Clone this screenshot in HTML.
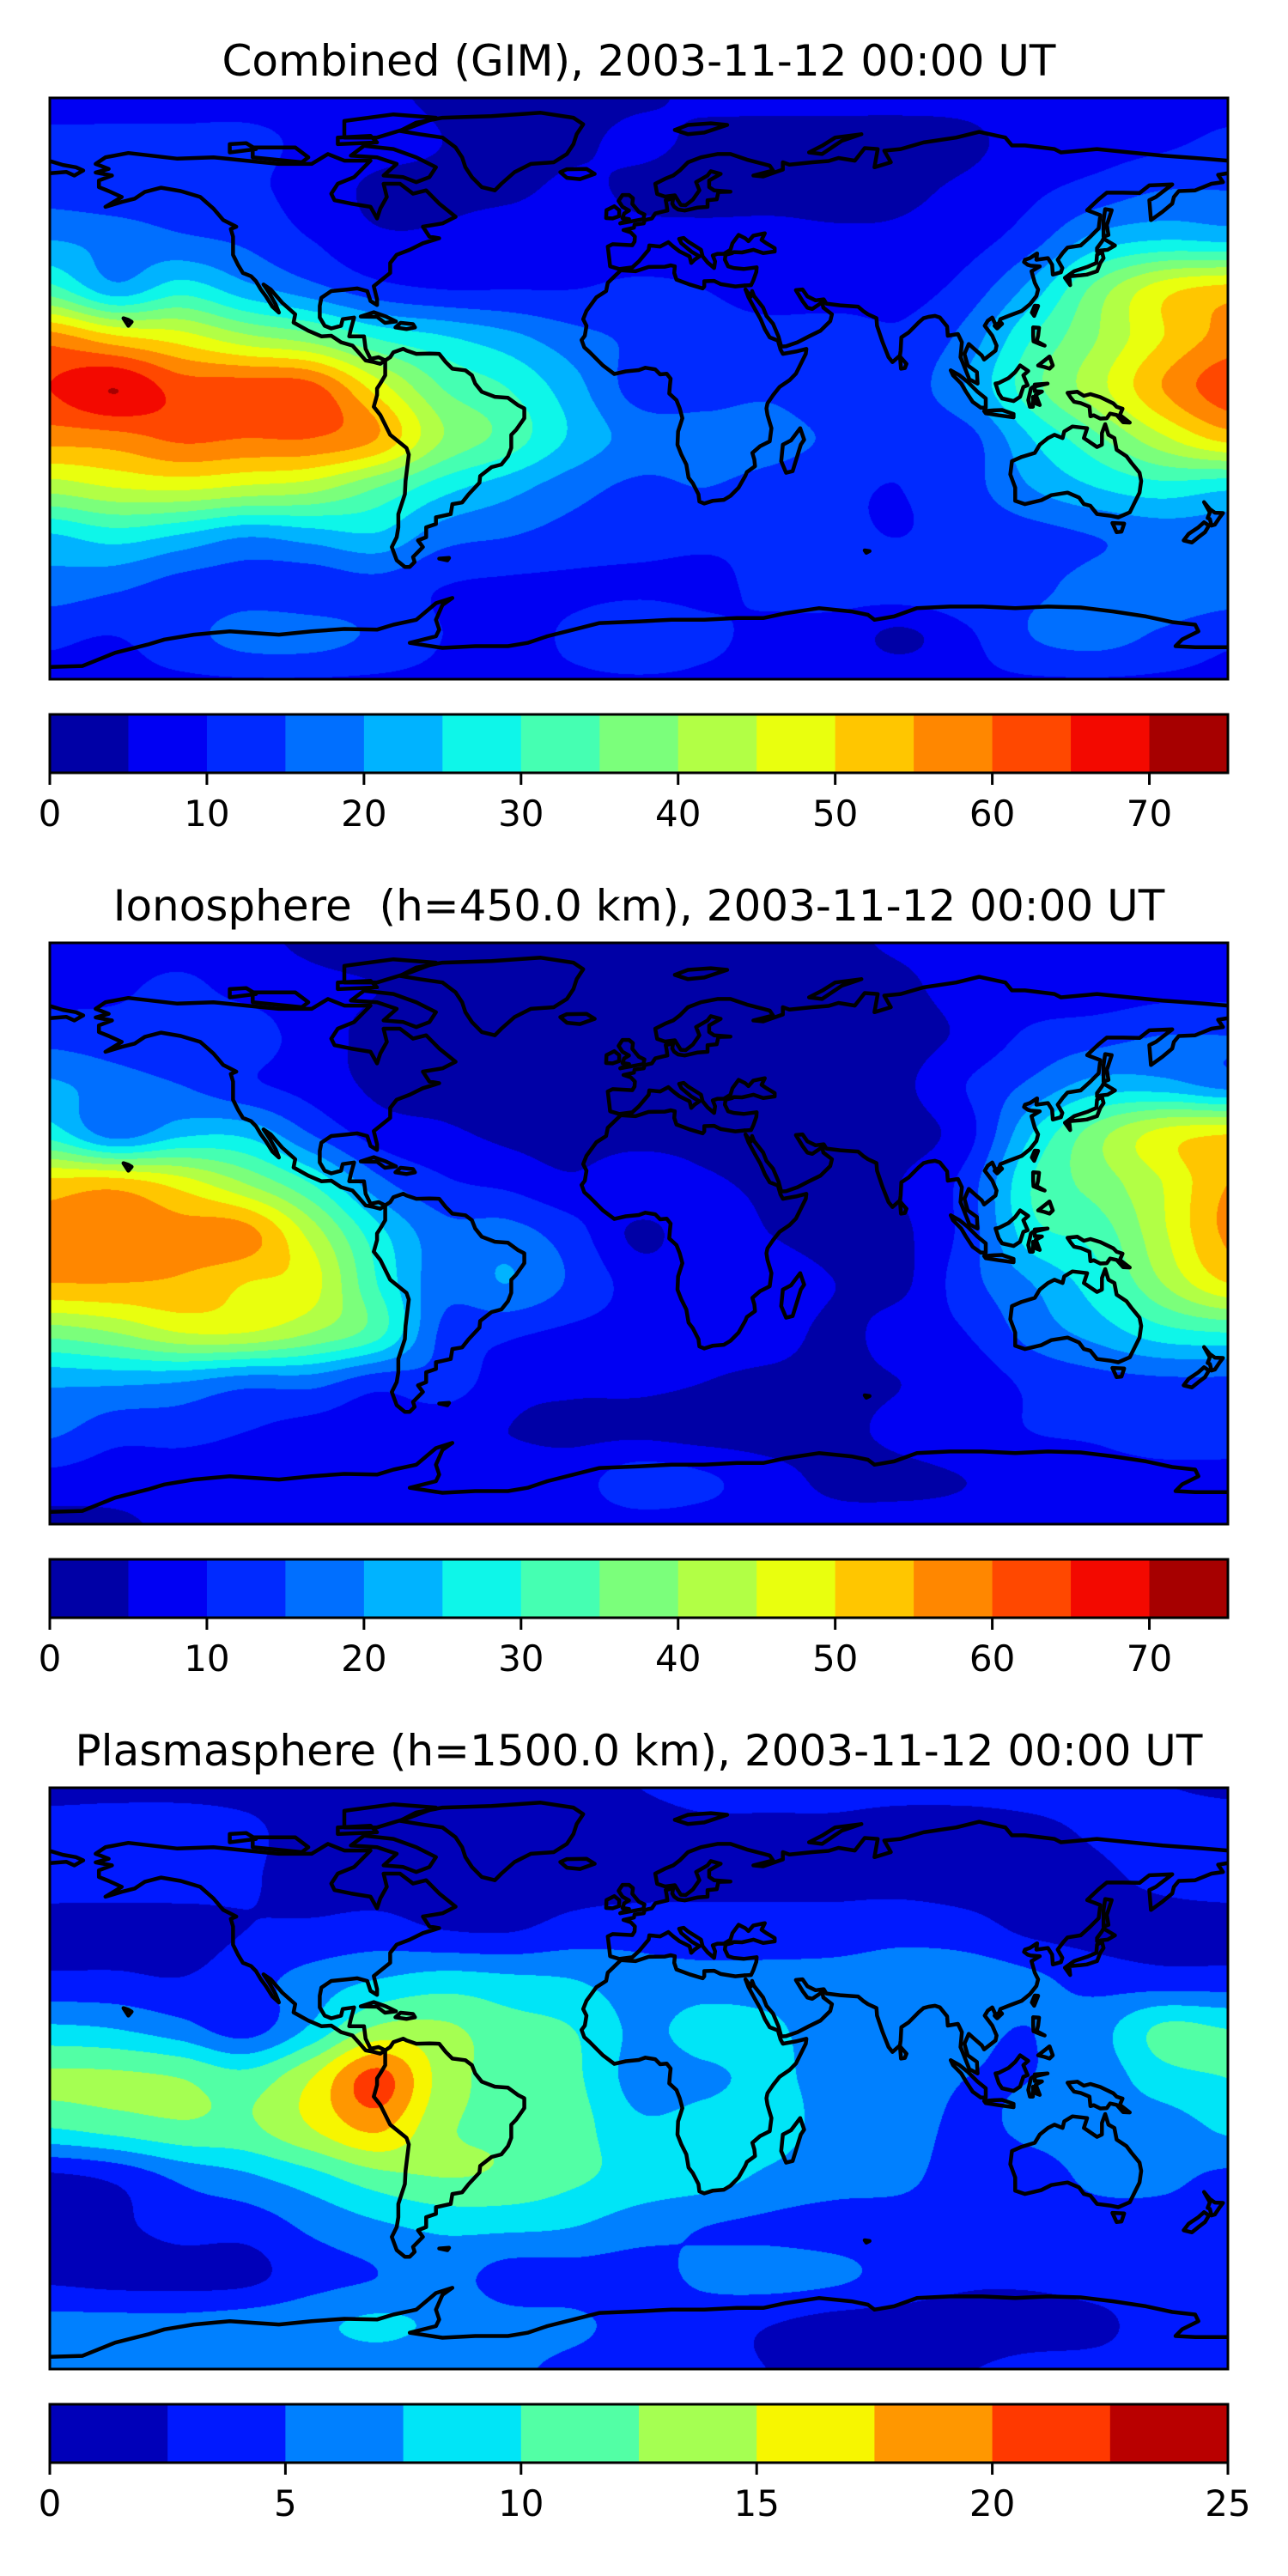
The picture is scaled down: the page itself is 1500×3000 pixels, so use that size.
<!DOCTYPE html>
<html><head><meta charset="utf-8">
<style>
html,body{margin:0;padding:0;background:#fff;}
#root{position:relative;width:1500px;height:3000px;overflow:hidden;background:#fff;}
canvas{position:absolute;}
svg{position:absolute;left:0;top:0;}
text{white-space:pre;}
</style></head>
<body>
<div id="root">
<canvas id="c0" width="1372" height="677" style="left:58px;top:114px"></canvas>
<canvas id="c1" width="1372" height="677" style="left:58px;top:1098px"></canvas>
<canvas id="c2" width="1372" height="677" style="left:58px;top:2082px"></canvas>
<svg id="ov" width="1500" height="3000" xmlns="http://www.w3.org/2000/svg"></svg>
</div>
<script>
// ---- grid coordinates ----
const gridLons = [-180,-160,-140,-120,-100,-80,-60,-40,-20,0,20,40,60,80,100,120,140,160,180];
const gridLats = [90,75,60,45,30,15,0,-15,-30,-45,-60,-75,-90];

// ---- Panel 1: Combined (GIM) TEC ----
const combinedTEC = [
[8,8,8,8,8,6,4,3,3,4,6,7,7,7,7,8,8,8,8],
[11,11,11,11,9,7,5,3,4,6,4,3,3,3,4,7,8,9,11],
[13,12,12,11,8,4,4,4,6,4,3,3,3,4,6,9,12,15,15],
[20,18,16,14,10,6,6,8,8,7,7,7,6,6,8,13,22,25,24],
[32,22,28,22,17,12,10,10,10,11,10,8,7,8,12,22,37,48,52],
[58,52,48,42,38,30,26,22,17,14,12,12,13,11,17,30,40,50,57],
[65,70,63,63,62,48,35,30,22,13,13,14,11,12,20,33,43,55,63],
[57,58,61,60,60,55,40,33,24,18,17,17,14,11,13,25,34,44,52],
[42,45,46,44,42,35,27,22,17,14,15,13,11,10,13,20,25,28,26],
[24,27,24,20,22,24,17,15,13,12,11,11,11,10,12,13,15,17,17],
[18,16,13,13,12,13,10,9,9,9,9,11,12,13,14,14,17,19,18],
[11,10,13,17,17,14,10,8,11,14,11,9,8,4,9,15,17,14,11],
[9,9,9,9,9,9,9,9,9,9,9,9,9,9,9,9,9,9,9]
];
// ---- Panel 2: Ionosphere TEC ----
const ionoTEC = [
[7,7,7,6,4,3,3,3,3,3,3,3,4,6,7,7,7,7,7],
[8,9,11,8,6,5,4,3,3,3,3,3,3,4,7,7,7,8,8],
[13,12,12,13,7,4,3,3,3,3,3,3,3,3,6,11,13,15,15],
[21,17,15,11,8,4,3,3,3,3,3,3,3,4,10,16,22,22,18],
[28,18,24,24,15,8,6,4,3,3,3,3,3,3,8,25,38,47,50],
[52,53,48,40,30,17,11,9,6,9,6,4,3,5,12,30,37,45,55],
[56,57,57,57,43,27,17,17,12,4,8,5,3,4,12,28,32,44,56],
[55,55,54,50,47,30,17,20,14,8,7,8,5,4,13,20,28,40,50],
[37,40,45,45,40,32,14,11,9,8,7,7,4,7,10,17,22,28,30],
[21,21,20,17,17,12,13,7,6,6,5,4,4,5,7,11,13,14,14],
[16,12,12,10,8,7,6,5,4,4,3,3,4,6,8,10,11,14,14],
[8,7,7,7,6,6,6,7,8,13,11,7,4,4,5,7,7,7,7],
[3,4,6,7,7,7,7,7,7,7,7,7,7,7,7,7,7,7,7]
];
// ---- Panel 3: Plasmasphere TEC ----
const plasmaTEC = [
[1.5,1.5,1.5,1.5,1.5,1.5,1.5,1.5,1.5,2.6,3.5,3.5,3.5,3.5,3.5,3.5,3.2,2.5,2],
[3.5,3.8,3.8,3,1.5,1.5,1.5,1.5,1.5,1.5,2,2,2,1.5,1.5,2,2.8,3.5,3.5],
[3.5,3.5,3.5,2.8,1.5,1.5,1.5,1.5,1.5,1.5,2,2,2,1.8,1.5,1.5,2,3,3.5],
[1.5,1.5,1.5,2.5,3,3.5,2.5,2.3,3.5,4,3.5,3.5,3.5,4,3.5,2,1.5,1.5,1.5],
[3,3,2.6,4,6,7.5,8.5,8,7.5,6,6,6,6,6.5,6.5,5.5,4,3.5,3.5],
[8,7.5,6,4,8,13,13,11,10,7,8.5,8,6,6,5.5,5,6.5,10.5,10],
[13,13,12.5,11,15,21,14,11.5,10.5,6.5,7,8,6.5,6,5,5,6,9,10],
[10,11,12,12,15,18,13,12,11,8,8.5,8.5,6.5,6,4.5,5.5,6,6,8],
[2,3,5.5,7,9,11.5,12.5,12,10.5,9,8.5,7,6,5.5,4,4,5.5,5.5,4.5],
[2,2,3.5,3.5,5.5,7,8,8,7.5,6,5,4.5,4,4,4,4,4,4,4],
[2,1.5,1.5,1.8,4,5,6,4,4,4,5.5,6,5.5,4,3,3,3.5,3.5,3.5],
[6,6,6,6.5,7,8,7,6,5.5,4,3.5,2.5,1.5,1.5,1.5,1.5,2,3.5,3.5],
[5.5,5.5,5.5,5.5,5.5,5.5,5.5,5.5,4,3.5,3.5,2.5,2.5,2.5,2.5,3.5,3.5,3.5,3.5]
];
// ---- levels / ticks ----
const ionoLevelStep = 5, ionoLevelCount = 15, ionoMax = 75;
const plasmaLevelStep = 2.5, plasmaLevelCount = 10, plasmaMax = 25;
const ionoTicks = [0,10,20,30,40,50,60,70];
const plasmaTicks = [0,5,10,15,20,25];
const titles = ["Combined (GIM), 2003-11-12 00:00 UT","Ionosphere  (h=450.0 km), 2003-11-12 00:00 UT","Plasmasphere (h=1500.0 km), 2003-11-12 00:00 UT"];

// ---- coastlines (lon, lat) ----
const coasts = [
[[-166,68],[-163,70],[-156,71.3],[-141,69.6],[-130,70],[-120,69],[-110,68],[-100,68],[-95,71],[-90,69],[-82,69],[-85,66],[-87,64],[-92,62],[-94,59],[-93,57],[-88,56],[-82,55],[-80,51.5],[-79,54.5],[-77,58],[-78,62],[-73,62],[-69,59],[-65,60],[-61,56],[-56,52],[-60,50],[-66,49],[-64,46],[-61,45.5],[-66,44],[-70,42],[-74,40.5],[-76,38],[-76,35],[-81,31],[-80,27],[-80,25.3],[-82,26.5],[-83,29.5],[-86,30.3],[-89,30],[-94,29.5],[-97,27.5],[-97.5,25],[-97.5,21.5],[-96,19],[-94,18.2],[-91,19],[-90.5,21],[-87,21.5],[-88,18],[-88.5,15.8],[-84,15.8],[-83.5,12],[-82,9],[-79.5,9.5],[-77.5,8.5],[-79,7.5],[-81,8],[-83.5,8.5],[-85.7,11],[-87.5,13],[-91,14],[-94,16],[-97,15.8],[-101,17.5],[-105.5,20],[-105,22.5],[-109,26],[-112.5,30],[-114.7,31.5],[-113,29],[-111,25.5],[-110,23],[-112,24.8],[-114,28],[-115.5,30],[-117,32.5],[-118.5,34],[-121,35],[-122.5,37.5],[-124,40.5],[-124,46],[-124.7,48.3],[-123,49],[-127,51],[-130,54.5],[-134,58],[-140,59.8],[-146,60.8],[-151,59.5],[-154,57.5],[-158,56.5],[-163,55],[-158,58],[-162,59.8],[-165,61],[-165,63],[-161,64.5],[-166,65.4],[-162,66.5],[-166,68]],
[[-73,78],[-68,80.5],[-60,82],[-45,82.5],[-30,83.5],[-20,82],[-17,80],[-19,77],[-20,74],[-22,71],[-26,68.5],[-33,68],[-38,65.5],[-42,62],[-44,60],[-48,61],[-51,64],[-53,67],[-54,70],[-56,73],[-60,76],[-67,77],[-73,78]],
[[-62,67],[-64,64],[-68,62.5],[-72,64],[-78,64.5],[-74,68],[-80,70],[-88,70.5],[-84,73.5],[-75,72.5],[-68,70],[-62,67]],
[[-118,70],[-103,68.5],[-101,70],[-105,73],[-118,73],[-118,70]],
[[-90,76],[-80,76],[-70,79],[-62,82],[-75,83],[-90,81],[-90,76]],
[[-92,74],[-80,74.5],[-82,76.5],[-92,76],[-92,74]],
[[-125,71.5],[-117,72.5],[-120,74.3],[-125,74],[-125,71.5]],
[[-24,65.5],[-22,66.4],[-16,66.5],[-13.5,65],[-18,63.4],[-22,63.8],[-24,65.5]],
[[32.3,31.2],[34.3,31.3],[35,32.8],[35.9,35.3],[36,36.7],[32,36.2],[29,36.5],[27.3,37],[26.3,39],[26.5,40.5],[28.5,41],[29,41.3],[31.5,41.2],[35,42],[38,41],[41.5,41.5],[41.5,42.5],[39,44],[37.5,45],[38.5,47],[35,46.3],[33.5,44.6],[32.5,45.5],[30.5,46.5],[29.6,45.3],[28.6,44],[28,42],[26,40.8],[24,40.8],[22.6,40.3],[23.3,38.5],[23,36.5],[21,38.2],[19.5,40],[19,42],[15,44.5],[13.7,45.6],[12.3,45.3],[13,44],[16,41.5],[18.5,40],[17,39],[16,38],[15.5,40],[12.5,41.5],[10.5,43],[9,44.3],[6.5,43],[3.2,43.3],[3,42],[0,38.5],[-2,36.7],[-6,36.2],[-8.8,37],[-9,39],[-9.5,43],[-8,43.7],[-2,43.4],[-1.3,44.5],[-1.2,46],[-2.5,47.3],[-4.7,48],[-1.5,48.7],[-1.3,49.6],[1.5,50],[1.8,51],[4,51.5],[5,53],[7,53.5],[8.7,53.9],[8.5,55.5],[8.2,57],[10.5,57.6],[10.2,56],[10.8,55],[12,54.2],[14,53.9],[18,54.8],[21,55],[21,57],[23.8,57.3],[24.3,59.5],[28,59.6],[23,60],[21.5,61],[21.5,63],[25,65],[22,65.8],[21,64.5],[17.5,62.5],[18.5,60],[16.5,57.2],[14.3,55.5],[12.8,55.6],[11,58.5],[8,58.1],[5.6,58.9],[5,62],[8,63.5],[10.5,64.5],[12.5,66],[15,68.5],[19,70],[24,71],[28,71],[31,70],[33,69.3],[40,67.5],[41,66],[35,64.5],[38,64.2],[44,66.3],[44,68.5],[46,67.8],[53,68.5],[58,68.9],[61,69.8],[66,69],[69,72.8],[73,72.5],[72,67],[77,68.5],[75,72],[80,72.5],[87,74.5],[97,76],[104,77.7],[112,76],[114,73.6],[118,73.6],[127,72.5],[129,71.5],[140,72.5],[150,71.5],[160,70.5],[170,69.8],[180,69]],
[[-180,68.9],[-176,67.7],[-172,67],[-169.8,66],[-172.5,64.5],[-175,65.6],[-180,65.2]],
[[180,65.2],[177,64.7],[178.5,62.5],[175,62],[170,60],[165,59.8],[163.5,58],[163,56],[160,53.5],[156.5,51],[156,57],[158,58],[163,61.8],[160,61.7],[156,61.5],[153,59.2],[148,59.3],[143,59.3],[140.5,57.3],[137,54],[141,52.5],[140.5,48.5],[138,46],[135,43.3],[131,42.7],[129.5,41],[128,39],[129.4,36.5],[129,35.2],[126.5,34.5],[126.3,37.5],[125,39.5],[121.5,39],[121.7,40.9],[119.5,39.5],[118,39],[117.7,38.3],[118.8,37.5],[119.7,37.2],[122.5,37],[120,35.5],[121,32],[122,30],[121.5,28],[119.5,25.5],[117,23.5],[113.5,22.2],[110.5,21],[109.5,18.3],[108,21.5],[106.6,20.5],[105.7,19],[108,16],[109.3,13],[109,11.5],[105.5,8.8],[104.8,10],[102.5,12],[100.8,13.5],[99.5,10.5],[100.5,7],[103.3,5],[103.5,1.5],[101,2.8],[99,7.8],[98.3,9.5],[98.7,14],[97.5,16.5],[94.4,16],[94.2,18.8],[92,21.5],[90.5,22],[88.5,21.7],[87,21.3],[85.5,20],[82.5,17],[80.2,15.5],[80,11.5],[79.8,10],[77.5,8],[76.3,9.5],[74.5,14],[72.8,19],[72.6,21.3],[70,22.5],[68.5,23.5],[67,24.8],[61.5,25.2],[57.3,25.7],[56.5,27],[54,26.7],[51.5,27.9],[50,30],[48,29.8],[50,26.5],[51.5,24.5],[53,24.1],[56,26.1],[56.4,24.5],[59,22.5],[58.5,20.4],[55.5,17.5],[52,15.8],[48.5,14],[45,12.8],[43.5,12.7],[42.7,15.7],[41,19.6],[39,22],[38,24.5],[35.2,28],[34.6,29.5],[34.2,27.8],[32.6,30]],
[[32.6,30],[33.5,27.6],[35.5,24],[37.2,21],[38.5,18],[40,15.5],[42.5,14.5],[43.3,11.8],[44,10.5],[48,11.2],[51.2,12],[51,10.5],[48,4.5],[46,2.5],[43,0.5],[41,-2],[39.3,-4.5],[39,-6],[39.3,-8],[40.5,-12],[40,-16],[37,-17.5],[34.7,-19.5],[35.3,-21.5],[35.5,-23.5],[33,-25.3],[32.5,-26.5],[30.5,-30],[28,-32.5],[26,-33.7],[22.5,-34],[20,-34.8],[18.5,-34.2],[18.2,-32],[16.5,-28.7],[15.2,-27],[14.5,-23],[13,-20],[11.8,-17],[12,-13],[13.3,-9],[12.5,-6],[11.5,-3.5],[9.3,-1.5],[9.5,1],[9.7,3],[8.5,4.5],[6.5,4.3],[5,5.8],[2,6.3],[0,5.6],[-4,5.2],[-7.5,4.4],[-11,7],[-13,9],[-15,11],[-16.7,12.5],[-17.5,14.7],[-16.5,16],[-16,19],[-17,21],[-16,23.5],[-13,27.6],[-10,29.5],[-9.5,32],[-5.5,35.8],[-1,35.5],[3,36.8],[8,36.9],[9.8,37.3],[11,37],[10.8,35],[11.5,33],[15.5,31.5],[19.5,30.3],[20,30.9],[20,32.5],[23,32.6],[25,31.6],[29.5,30.9],[32.3,31.2]],
[[49.3,-12],[50.5,-15.5],[49.5,-17],[47,-25],[45,-25.5],[43.5,-22],[44,-17],[46.5,-15.7],[49.3,-12]],
[[-77.5,8.5],[-76,9.5],[-75,11],[-72,12],[-71,11.5],[-68,10.5],[-64,10.6],[-61,10.5],[-59,8],[-57,6],[-53,5.5],[-51,4],[-50,1.5],[-48,-1],[-44,-2.5],[-40,-2.8],[-37,-5],[-35,-6],[-35,-9],[-37.5,-12.5],[-39,-14],[-39,-18],[-40,-20.5],[-42,-23],[-45,-23.8],[-48.5,-26.5],[-48.7,-28.5],[-52,-32],[-54,-34.5],[-57,-35],[-57.5,-38],[-62,-39],[-62,-41],[-65,-42],[-65,-45],[-67.5,-46],[-66,-48],[-69,-51],[-68.5,-52.5],[-70,-54],[-71.5,-54],[-74,-52],[-75.5,-48],[-74,-45],[-73.5,-42],[-73.5,-38],[-71.5,-32],[-71.3,-28],[-70.3,-20],[-71,-18],[-76,-14],[-79,-8],[-81,-5.5],[-80,-2],[-80,0],[-79,1.5],[-77.5,4],[-77.5,7],[-77.5,8.5]],
[[114,-22],[113.5,-26],[115,-30],[115,-34],[118,-35],[123,-33.8],[126,-32.3],[131,-31.5],[134.5,-33],[136,-35],[138,-35.5],[140,-38],[144,-38.5],[146.5,-39],[150,-37.5],[153,-31.5],[153.5,-28],[153,-25.5],[150.5,-22.5],[149,-20.5],[146,-18.5],[145.3,-15],[143.5,-14],[142.5,-10.8],[141.5,-13.5],[141.5,-17],[140,-17.7],[136,-15],[137,-12],[132.5,-11.5],[130,-13],[129.5,-15],[127,-14],[125,-15],[122.5,-17],[121,-19.5],[117,-20.7],[114,-22]],
[[144.7,-40.7],[148.3,-40.9],[147.5,-43.3],[146,-43.5],[144.7,-40.7]],
[[172.7,-34.4],[174.5,-36.5],[176,-37.6],[178.5,-37.7],[177.5,-39],[176,-41.2],[175,-41.5],[174.5,-39.5],[173.8,-39.2],[174.5,-37.5],[172.7,-34.4]],
[[172.7,-40.5],[174.2,-41.5],[173,-43.5],[171,-45],[169,-46.6],[166.5,-46],[168,-44],[171,-42],[172.7,-40.5]],
[[130.2,33.5],[131.8,31.3],[131.5,34],[135,34.3],[136.9,34.5],[140,35.5],[141,38],[142,39.5],[141.5,41.4],[140,40.5],[139.8,38],[137,36.8],[133,35.5],[130.2,33.5]],
[[140,41.5],[141.2,41.8],[143.2,42],[145.5,43.3],[142,45.4],[141.5,44.5],[140,42.5],[140,41.5]],
[[142,46],[143.5,46.5],[143,49.5],[144.5,54],[142.5,54.3],[142,51],[142,46]],
[[109,1.5],[110,-1.5],[111,-3],[114.5,-3.8],[116.5,-2.5],[117.5,0.5],[118.8,1],[117.5,4],[119,5.3],[116.5,7],[115,5],[113,3.2],[110,1.7],[109,1.5]],
[[95.3,5.5],[98,4],[100.5,2],[103.5,-1],[106,-3],[106,-5.8],[104.5,-5.8],[102,-4],[100,-1],[98.5,1.5],[96,4],[95.3,5.5]],
[[105.5,-6.8],[108.5,-6.6],[111,-6.5],[114.5,-7.7],[114.5,-8.7],[110,-8.1],[106,-7.5],[105.5,-6.8]],
[[119.5,-5.5],[120.4,-5.5],[120.5,-2.5],[121.5,-4.6],[122.5,-5],[121.3,-1.9],[123.2,-0.9],[121,-0.8],[121,1.2],[124.9,1.5],[120.5,0.5],[119.8,0],[119,-3.5],[119.5,-5.5]],
[[131,-1.3],[134,-1],[136,-2.2],[138,-1.7],[141,-2.6],[145,-4.5],[146,-5.5],[147.8,-6.1],[147,-8],[150,-10.3],[148,-10.2],[146,-8],[144,-7.6],[143,-9],[141,-9.1],[139,-8.1],[138,-8.4],[137.7,-5.5],[135,-4.4],[133,-4],[132,-2.8],[131,-1.3]],
[[120.5,18.5],[122.3,18.4],[122,16],[121.6,14.3],[124,13],[122.5,13.5],[120.6,14.3],[120.5,16],[120.5,18.5]],
[[122,7],[125.5,9.7],[126.5,7],[125.5,6],[124,6.5],[122,7]],
[[120.1,23],[121,25.1],[122,25],[120.8,22],[120.1,23]],
[[108.7,19],[110.5,20.1],[111,19.6],[109.5,18.2],[108.7,19]],
[[79.8,9.7],[81.8,7.5],[81.3,6.2],[80.1,6],[79.8,9.7]],
[[-5.7,50],[1.4,51.3],[1.7,52.7],[0,53.5],[-2,55.9],[-1.8,57.6],[-3,58.6],[-5,58.6],[-6.2,56.8],[-5,55],[-3,53.9],[-4.5,53],[-5,51.6],[-3,51.3],[-5.7,50]],
[[-6,52.2],[-6,54],[-7.5,55.2],[-9.9,54],[-10,51.6],[-8,51.5],[-6,52.2]],
[[-85,21.8],[-81,23.1],[-77.3,21.8],[-74.2,20.3],[-77.6,19.9],[-80,21.7],[-85,21.8]],
[[-74.4,18.5],[-72.8,19.9],[-69,19.5],[-68.4,18.5],[-71,18],[-74.4,18.5]],
[[52,71.5],[56,73.5],[60,76],[68,77],[62,75],[56,71],[52,71.5]],
[[11,78.3],[15,79.8],[22,80.3],[27,79.8],[20,77.5],[15,77],[11,78.3]],
[[-156,19],[-155,20.2],[-156,20.8],[-157.5,21.3],[-156,19]],
[[-61,-51.5],[-58,-51.3],[-58.5,-52],[-61,-51.5]],
[[69,-49],[70.5,-49.2],[69.5,-49.7],[69,-49]],
[[-180,-84.3],[-170,-84],[-160,-80],[-150,-77.5],[-145,-76],[-136,-74.5],[-125,-73.5],[-110,-74.5],[-100,-73.5],[-90,-72.8],[-80,-73],[-75,-71.5],[-68,-70],[-62,-65],[-57,-63.4],[-60,-65.5],[-62,-70],[-61,-73],[-62,-75],[-70,-77],[-60,-78.5],[-50,-78],[-40,-78],[-34,-77],[-28,-75],[-20,-73],[-12,-71],[0,-70.5],[10,-70],[20,-70],[30,-69.5],[38,-69.5],[45,-68],[55,-66.5],[65,-67.5],[70,-68.5],[72,-70],[78,-69],[85,-66.5],[95,-66],[105,-66],[115,-66.5],[125,-66],[135,-66.3],[145,-67.5],[155,-69],[163,-70.7],[170,-71.5],[171,-73.5],[166,-76],[164,-78],[170,-78.3],[180,-78.3]]
];

// ---- layout ----
const MAP_X = 58, MAP_W = 1372, MAP_H = 677;
const panelTops = [114, 1098, 2082];
const LAT_TOP = 88, LAT_SPAN = 176;

// matplotlib 'jet' segment data
const JET_R = [[0,0],[0.35,0],[0.66,1],[0.89,1],[1,0.5]];
const JET_G = [[0,0],[0.125,0],[0.375,1],[0.64,1],[0.91,0],[1,0]];
const JET_B = [[0,0.5],[0.11,1],[0.34,1],[0.65,0],[1,0]];
function seg(s, t){
  for (let i=1;i<s.length;i++){
    if (t <= s[i][0]){ const a=s[i-1], b=s[i]; return a[1]+(b[1]-a[1])*(t-a[0])/(b[0]-a[0]); }
  }
  return s[s.length-1][1];
}
function jet(t){
  return [seg(JET_R,t),seg(JET_G,t),seg(JET_B,t)].map(v=>Math.round(Math.max(0,Math.min(1,v))*255));
}
function xOf(lon){ return MAP_X + (lon+180)/360*MAP_W; }
function yOf(lat, top){ return top + (LAT_TOP-lat)/LAT_SPAN*MAP_H; }

function cr(p0,p1,p2,p3,t){
  return 0.5*((2*p1)+(-p0+p2)*t+(2*p0-5*p1+4*p2-p3)*t*t+(-p0+3*p1-3*p2+p3)*t*t*t);
}
function sample(grid, lon, lat){
  const nR = gridLats.length, nC = gridLons.length;
  const fx = (lon - gridLons[0])/(gridLons[1]-gridLons[0]);
  const fy = (gridLats[0] - lat)/(gridLats[0]-gridLats[1]);
  const ix = Math.min(nC-2, Math.max(0, Math.floor(fx))), iy = Math.min(nR-2, Math.max(0, Math.floor(fy)));
  const tx = fx-ix, ty = fy-iy;
  const rows = [];
  for (let j=-1;j<=2;j++){
    const r = grid[Math.min(nR-1, Math.max(0, iy+j))];
    const g = k => r[Math.min(nC-1, Math.max(0, ix+k))];
    rows.push(cr(g(-1),g(0),g(1),g(2),tx));
  }
  return cr(rows[0],rows[1],rows[2],rows[3],ty);
}

function drawField(canvasId, grid, step, count){
  const cv = document.getElementById(canvasId), ctx = cv.getContext('2d');
  const img = ctx.createImageData(MAP_W, MAP_H);
  const cols = []; for (let i=0;i<count;i++) cols.push(jet((i+0.5)/count));
  for (let py=0; py<MAP_H; py++){
    const lat = LAT_TOP - (py+0.5)/MAP_H*LAT_SPAN;
    for (let px=0; px<MAP_W; px++){
      const lon = -180 + (px+0.5)/MAP_W*360;
      const v = sample(grid, lon, lat);
      let k = Math.floor(v/step); if (k<0) k=0; if (k>count-1) k=count-1;
      const o = (py*MAP_W+px)*4, c = cols[k];
      img.data[o]=c[0]; img.data[o+1]=c[1]; img.data[o+2]=c[2]; img.data[o+3]=255;
    }
  }
  ctx.putImageData(img,0,0);
}
drawField('c0', combinedTEC, ionoLevelStep, ionoLevelCount);
drawField('c1', ionoTEC, ionoLevelStep, ionoLevelCount);
drawField('c2', plasmaTEC, plasmaLevelStep, plasmaLevelCount);

// ---- SVG overlay ----
const NS = 'http://www.w3.org/2000/svg';
const svg = document.getElementById('ov');
function mk(tag, attrs, parent){
  const e = document.createElementNS(NS, tag);
  for (const k in attrs) e.setAttribute(k, attrs[k]);
  (parent||svg).appendChild(e); return e;
}
const panelCfg = [
  {name:'combined', step:ionoLevelStep, count:ionoLevelCount, max:ionoMax, ticks:ionoTicks},
  {name:'ionosphere', step:ionoLevelStep, count:ionoLevelCount, max:ionoMax, ticks:ionoTicks},
  {name:'plasmasphere', step:plasmaLevelStep, count:plasmaLevelCount, max:plasmaMax, ticks:plasmaTicks}
];
panelCfg.forEach((cfg, p) => {
  const top = panelTops[p];
  const g = mk('g', {});
  
  
  const t = mk('text', {x: MAP_X+MAP_W/2, y: top-26, 'text-anchor':'middle', 'font-family':'"DejaVu Sans","Liberation Sans",sans-serif', 'font-size':'50', fill:'#000'}, g);
  t.setAttributeNS('http://www.w3.org/XML/1998/namespace', 'xml:space', 'preserve');
  t.textContent = titles[p];
  
  
  // coastlines
  const cg = mk('g', {fill:'none', stroke:'#000', 'stroke-width':'4.5', 'stroke-linejoin':'round', 'stroke-linecap':'round'}, g);
  
  
  const clipId = 'clip'+p;
  const cp = mk('clipPath', {id: clipId}, g);
  mk('rect', {x:MAP_X, y:top, width:MAP_W, height:MAP_H}, cp);
  cg.setAttribute('clip-path', 'url(#'+clipId+')');
  coasts.forEach(line => {
    const d = line.map((pt,i)=>(i?'L':'M')+xOf(pt[0]).toFixed(1)+','+yOf(pt[1],top).toFixed(1)).join('');
    const path = mk('path', {d}, cg);
    
    
  });
  const frame = mk('rect', {x:MAP_X, y:top, width:MAP_W, height:MAP_H, fill:'none', stroke:'#000', 'stroke-width':'3'}, g);
  
  
  // colorbar
  const cbTop = top + 718, cbH = 68;
  const cb = mk('g', {}, g);
  
  
  const sx = v => MAP_X + v/cfg.max*MAP_W;
  for (let i=0;i<cfg.count;i++){
    const c = jet((i+0.5)/cfg.count);
    const r = mk('rect', {x:sx(i*cfg.step), y:cbTop, width:sx((i+1)*cfg.step)-sx(i*cfg.step)+0.5, height:cbH, fill:'rgb('+c.join(',')+')'}, cb);
    
    
  }
  mk('rect', {x:MAP_X, y:cbTop, width:MAP_W, height:cbH, fill:'none', stroke:'#000', 'stroke-width':'3'}, cb);
  cfg.ticks.forEach(v => {
    const x = sx(v);
    const tk = mk('line', {x1:x, x2:x, y1:cbTop+cbH, y2:cbTop+cbH+14, stroke:'#000', 'stroke-width':'3'}, cb);
    
    
    const lb = mk('text', {x:x, y:top+848, 'text-anchor':'middle', 'font-family':'"DejaVu Sans","Liberation Sans",sans-serif', 'font-size':'42', fill:'#000'}, cb);
    lb.textContent = String(v);
    
    
  });
});
</script>
</body></html>
